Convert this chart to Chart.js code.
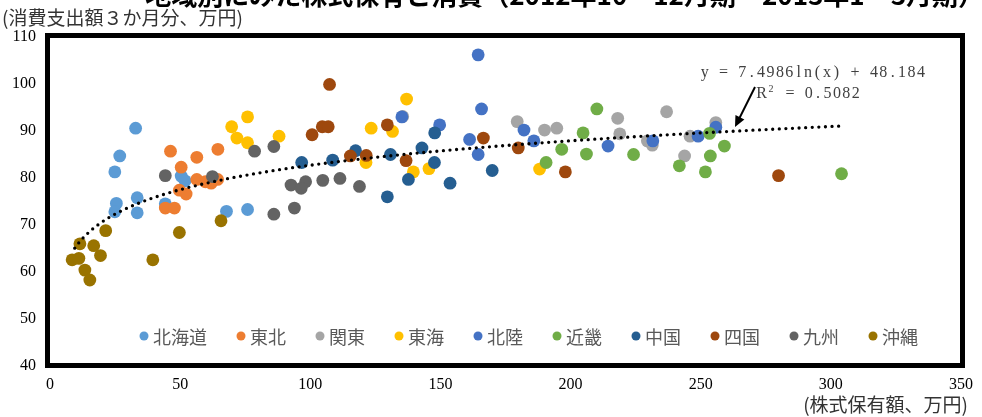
<!DOCTYPE html>
<html>
<head>
<meta charset="utf-8">
<script src="https://cdn.jsdelivr.net/npm/chart.js@4.4.0/dist/chart.umd.min.js"></script>
<style>
html, body { margin: 0; padding: 0; background: #fff; }
#wrap { width: 982px; height: 417px; }
</style>
</head>
<body>
<div id="wrap"><canvas id="chart" width="982" height="417"></canvas></div>
<script>
// 地域ごとの点 [株式保有額, 消費支出額]
var regions = ["北海道", "東北", "関東", "東海", "北陸", "近畿", "中国", "四国", "九州", "沖縄"];
var colors = ["#5B9BD5", "#ED7D31", "#A5A5A5", "#FFC000", "#4472C4", "#70AD47", "#255E91", "#9E480E", "#636363", "#997300"];

var hokkaido = [[32.9,90.6],[26.8,84.7],[24.9,81.3],[25.5,74.6],[24.9,72.8],[33.5,75.8],[33.5,72.6],[44.3,74.5],[50.4,80.4],[51.9,79.4],[67.8,72.9],[75.9,73.3]];
var tohoku = [[46.3,85.7],[56.4,84.4],[64.5,86.1],[50.4,82.3],[56.4,79.7],[59.7,79.2],[61.9,78.9],[64.4,79.7],[49.7,77.4],[52.3,76.6],[44.3,73.6],[47.8,73.6]];
var kanto = [[179.5,92.0],[190,90.2],[194.7,90.6],[218.1,92.7],[218.9,89.4],[236.9,94.1],[229.5,87.9],[231.4,87.0],[245.9,88.9],[243.8,84.7],[255.8,91.8],[135.5,93.1]];
var tokai = [[69.8,90.9],[75.9,93.0],[71.8,88.5],[75.9,87.5],[88,88.9],[137,96.8],[123.4,90.6],[131.6,89.9],[121.4,83.3],[139.6,81.3],[145.6,82.0],[188.1,81.9]];
var hokuriku = [[164.5,106.2],[165.8,94.7],[135.2,93.0],[149.7,91.3],[182.1,90.2],[161.2,88.2],[164.5,85.0],[185.9,87.9],[214.4,86.8],[231.6,87.9],[249,88.9],[255.8,90.8]];
var kinki = [[210.1,94.7],[204.8,89.6],[196.6,86.1],[190.6,83.3],[206.1,85.1],[224.2,85.0],[241.8,82.6],[251.8,81.3],[253.7,84.7],[259.1,86.8],[253.4,89.5],[304.1,80.9]];
var chugoku = [[96.7,83.3],[108.6,83.8],[117.4,85.8],[130.8,85.0],[142.9,86.4],[147.8,89.6],[147.7,83.3],[137.7,79.7],[153.7,78.9],[169.9,81.6],[129.6,76.0]];
var shikoku = [[107.4,99.9],[100.7,89.2],[104.6,90.9],[106.9,90.9],[129.6,91.3],[115.4,84.7],[121.5,84.8],[136.8,83.7],[166.5,88.5],[179.9,86.4],[198,81.3],[279.9,80.5]];
var kyushu = [[44.3,80.5],[78.6,85.7],[86,86.7],[62.4,80.3],[86,72.3],[92.6,78.5],[98.2,79.2],[96.5,77.8],[104.8,79.5],[111.4,79.9],[118.9,78.2],[93.9,73.6]];
var okinawa = [[21.4,68.8],[11.5,66.0],[16.8,65.6],[19.4,63.5],[8.5,62.6],[11.1,62.9],[13.4,60.4],[15.3,58.3],[39.5,62.6],[49.7,68.4],[65.7,70.9]];
var allPoints = [hokkaido, tohoku, kanto, tokai, hokuriku, kinki, chugoku, shikoku, kyushu, okinawa];

// 対数近似 y = a ln(x) + b
var trendA = 7.4986, trendB = 48.184;
var trendFrom = 9.5, trendTo = 303;
var eqText = "y = 7.4986ln(x) + 48.184";
var r2Text = "R² = 0.5082";

var titleText = "地域別にみた株式保有と消費（2012年10－12月期－2013年1－3月期）";
var yTitle = "(消費支出額３か月分、万円)";
var xTitle = "(株式保有額、万円)";

var datasets = [];
for (var i = 0; i < regions.length; i++) {
    datasets.push({
        label: regions[i],
        data: allPoints[i].map(function(p) { return {x: p[0], y: p[1]}; }),
        backgroundColor: colors[i],
        borderWidth: 0,
        pointRadius: 6.4,
        pointHoverRadius: 6.4,
        order: regions.length - i
    });
}

var jp = '"Noto Sans CJK JP", "Noto Sans", sans-serif';
var serif = '"Liberation Serif", "DejaVu Serif", serif';

var extras = {
    id: 'extras',
    beforeDraw: function(chart) {
        var ctx = chart.ctx;
        ctx.save();
        ctx.fillStyle = '#fff';
        ctx.fillRect(0, 0, chart.width, chart.height);
        ctx.restore();
    },
    afterDatasetsDraw: function(chart) {
        var ctx = chart.ctx, xs = chart.scales.x, ys = chart.scales.y, a = chart.chartArea;
        ctx.save();

        // 近似曲線（点線）
        ctx.beginPath();
        for (var i = 0; i <= 300; i++) {
            var v = trendFrom + (trendTo - trendFrom) * i / 300;
            var px = xs.getPixelForValue(v), py = ys.getPixelForValue(trendA * Math.log(v) + trendB);
            if (i == 0) ctx.moveTo(px, py); else ctx.lineTo(px, py);
        }
        ctx.setLineDash([0, 6.6]);
        ctx.lineCap = 'round';
        ctx.lineWidth = 3.3;
        ctx.strokeStyle = '#000';
        ctx.stroke();
        ctx.setLineDash([]);

        // 枠
        ctx.lineWidth = 5;
        ctx.lineCap = 'butt';
        ctx.strokeRect(a.left - 2.5, a.top - 1.5, a.width + 4, a.height + 1);

        // 凡例
        ctx.font = '18px ' + jp;
        ctx.textBaseline = 'middle';
        ctx.textAlign = 'left';
        var lx = 144, ly = 336;
        for (var k = 0; k < regions.length; k++) {
            ctx.fillStyle = colors[k];
            ctx.beginPath();
            ctx.arc(lx, ly, 4.5, 0, Math.PI * 2);
            ctx.fill();
            ctx.fillStyle = '#595959';
            ctx.fillText(regions[k], lx + 9, ly + 1);
            lx += 9 + ctx.measureText(regions[k]).width + 34;
        }

        // 数式
        ctx.fillStyle = '#404040';
        ctx.textAlign = 'center';
        drawMono(ctx, eqText, 700, 73);
        drawMono(ctx, r2Text, 757, 94);

        // 矢印
        ctx.strokeStyle = '#000';
        ctx.fillStyle = '#000';
        ctx.lineWidth = 2;
        var x1 = 755, y1 = 87, x2 = 735, y2 = 127;
        var ang = Math.atan2(y2 - y1, x2 - x1);
        ctx.beginPath();
        ctx.moveTo(x1, y1);
        ctx.lineTo(x2 - 9 * Math.cos(ang), y2 - 9 * Math.sin(ang));
        ctx.stroke();
        ctx.beginPath();
        ctx.moveTo(x2, y2);
        ctx.lineTo(x2 - 11 * Math.cos(ang) + 5 * Math.sin(ang), y2 - 11 * Math.sin(ang) - 5 * Math.cos(ang));
        ctx.lineTo(x2 - 11 * Math.cos(ang) - 5 * Math.sin(ang), y2 - 11 * Math.sin(ang) + 5 * Math.cos(ang));
        ctx.closePath();
        ctx.fill();

        // 軸タイトル・表題
        ctx.fillStyle = '#333';
        ctx.font = '19px ' + jp;
        ctx.textAlign = 'left';
        ctx.textBaseline = 'middle';
        ctx.fillText(yTitle, 2, 18);
        ctx.textAlign = 'right';
        ctx.fillText(xTitle, 968, 405);
        ctx.fillStyle = '#000';
        ctx.font = 'bold 26px ' + jp;
        ctx.textBaseline = 'alphabetic';
        ctx.fillText(titleText, 984, 5);

        ctx.restore();
    }
};

function drawMono(ctx, s, x0, y) {
    var step = 9.4;
    for (var i = 0; i < s.length; i++) {
        var ch = s[i];
        var cx = x0 + i * step + step / 2;
        if (ch == '²') {
            ctx.font = '10px ' + serif;
            ctx.fillText('2', cx, y - 5);
        } else {
            ctx.font = '16px ' + serif;
            ctx.fillText(ch, cx, y);
        }
    }
}

new Chart(document.getElementById('chart'), {
    type: 'scatter',
    data: { datasets: datasets },
    options: {
        responsive: false,
        animation: false,
        layout: { padding: { left: 0, right: 17, top: 37, bottom: 0 } },
        plugins: { legend: { display: false }, tooltip: { enabled: false } },
        scales: {
            x: {
                min: 0, max: 350,
                ticks: { stepSize: 50, color: '#000', padding: 9, font: { family: serif, size: 16 } },
                grid: { display: false, drawTicks: false },
                border: { display: false },
                afterFit: function(s) { s.height = 51; }
            },
            y: {
                min: 40, max: 110,
                ticks: { stepSize: 10, color: '#000', padding: 14, font: { family: serif, size: 16 } },
                grid: { display: false, drawTicks: false },
                border: { display: false },
                afterFit: function(s) { s.width = 50; }
            }
        }
    },
    plugins: [extras]
});
</script>
</body>
</html>
